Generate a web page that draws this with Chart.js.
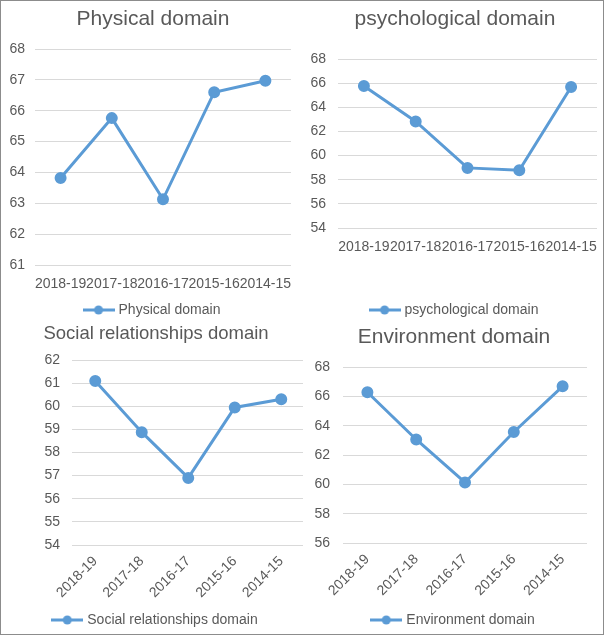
<!DOCTYPE html>
<html>
<head>
<meta charset="utf-8">
<script src="https://cdn.jsdelivr.net/npm/chart.js@4.4.0/dist/chart.umd.min.js"></script>
<style>
  html, body { margin: 0; padding: 0; background: #fff; }
  #wrap { position: relative; width: 605px; height: 636px; overflow: hidden; background: #fff; }
  #wrap canvas, #wrap .clip { position: absolute; }
  .clip { overflow: hidden; }
  #frame { position: absolute; left: 0; top: 0; width: 602px; height: 633px; border: 1px solid #8c8c8c; pointer-events: none; }
</style>
</head>
<body>
<div id="wrap">
  <canvas id="physical" width="306" height="330" style="left:0;top:0"></canvas>
  <canvas id="psychological" width="310" height="330" style="left:300px;top:0"></canvas>
  <div class="clip" style="left:0;top:310px;width:303px;height:330px">
    <canvas id="social" width="312" height="330" style="left:0;top:0"></canvas>
  </div>
  <canvas id="environment" width="302" height="330" style="left:303px;top:310px"></canvas>
  <div id="frame"></div>
</div>
<script>
const years = ['2018-19', '2017-18', '2016-17', '2015-16', '2014-15'];
const physical = [63.82, 65.76, 63.13, 66.6, 66.97];
const psychological = [65.76, 62.83, 58.98, 58.78, 65.68];
const social = [61.09, 58.88, 56.9, 59.95, 60.3];
const environment = [66.28, 63.06, 60.13, 63.57, 66.68];

const blue = '#5b9bd5';
const textColor = '#595959';
const family = '"Liberation Sans", Arial, sans-serif';

// line with a dot, like the excel legend key
function legendMarker() {
  const c = document.createElement('canvas');
  c.width = 32; c.height = 10;
  const g = c.getContext('2d');
  g.strokeStyle = blue;
  g.lineWidth = 3;
  g.beginPath(); g.moveTo(0, 5); g.lineTo(32, 5); g.stroke();
  g.fillStyle = blue;
  g.beginPath(); g.arc(16, 5, 4.5, 0, Math.PI * 2); g.fill();
  return c;
}
const marker = legendMarker();

function makeChart(id, title, values, o) {
  new Chart(document.getElementById(id), {
    type: 'line',
    data: {
      labels: years,
      datasets: [{
        label: title,
        data: values,
        borderColor: blue,
        backgroundColor: blue,
        borderWidth: 3,
        pointRadius: 4.5,
        pointHoverRadius: 4.5,
        pointBackgroundColor: blue,
        pointBorderColor: blue,
        tension: 0
      }]
    },
    options: {
      responsive: false,
      animation: false,
      devicePixelRatio: 1,
      layout: { padding: { left: 0, top: 0, right: 0, bottom: 3 } },
      plugins: {
        title: {
          display: true,
          text: title,
          color: textColor,
          font: { family, size: o.titleSize, weight: 'normal' },
          padding: { top: o.titleTop, bottom: o.titleBottom }
        },
        legend: {
          position: 'bottom',
          labels: {
            usePointStyle: true,
            pointStyle: marker,
            pointStyleWidth: 26,
            color: textColor,
            font: { family, size: 14 },
            padding: 10
          }
        },
        tooltip: { enabled: false }
      },
      scales: {
        x: {
          offset: true,
          grid: { display: false, drawTicks: false },
          border: { display: false },
          ticks: {
            color: textColor,
            font: { family, size: 14 },
            padding: o.xPad,
            autoSkip: false,
            maxRotation: o.rot,
            minRotation: o.rot
          },
          afterFit: s => { s.height = o.xHeight; }
        },
        y: {
          min: o.min,
          max: o.max,
          grid: { color: '#d9d9d9', drawTicks: false },
          border: { display: false },
          ticks: {
            stepSize: o.step,
            color: textColor,
            font: { family, size: 14 },
            padding: o.yPad
          },
          afterFit: s => { s.width = o.yWidth; }
        },
        // empty right gutter, so title and legend sit centred on the whole panel
        gutter: {
          position: 'right',
          grid: { display: false },
          border: { display: false },
          ticks: { display: false },
          afterFit: s => { s.width = o.gutter; }
        }
      }
    }
  });
}

makeChart('physical', 'Physical domain', physical, {
  titleSize: 21, titleTop: 7, titleBottom: 16.8, gutter: 15,
  yWidth: 35, yPad: 10, xHeight: 28, xPad: 10.5, rot: 0, min: 61, max: 68, step: 1
});
makeChart('psychological', 'psychological domain', psychological, {
  titleSize: 21, titleTop: 6.2, titleBottom: 27.6, gutter: 13,
  yWidth: 38, yPad: 12, xHeight: 65, xPad: 10.5, rot: 0, min: 54, max: 68, step: 2
});
makeChart('social', 'Social relationships domain', social, {
  titleSize: 18.5, titleTop: 12.6, titleBottom: 15.2, gutter: 7,
  yWidth: 72, yPad: 12, xHeight: 58, xPad: 8, rot: 45, min: 54, max: 62, step: 1
});
makeChart('environment', 'Environment domain', environment, {
  titleSize: 21, titleTop: 15, titleBottom: 16.8, gutter: 18,
  yWidth: 40, yPad: 13, xHeight: 60, xPad: 8, rot: 45, min: 56, max: 68, step: 2
});
</script>
</body>
</html>
